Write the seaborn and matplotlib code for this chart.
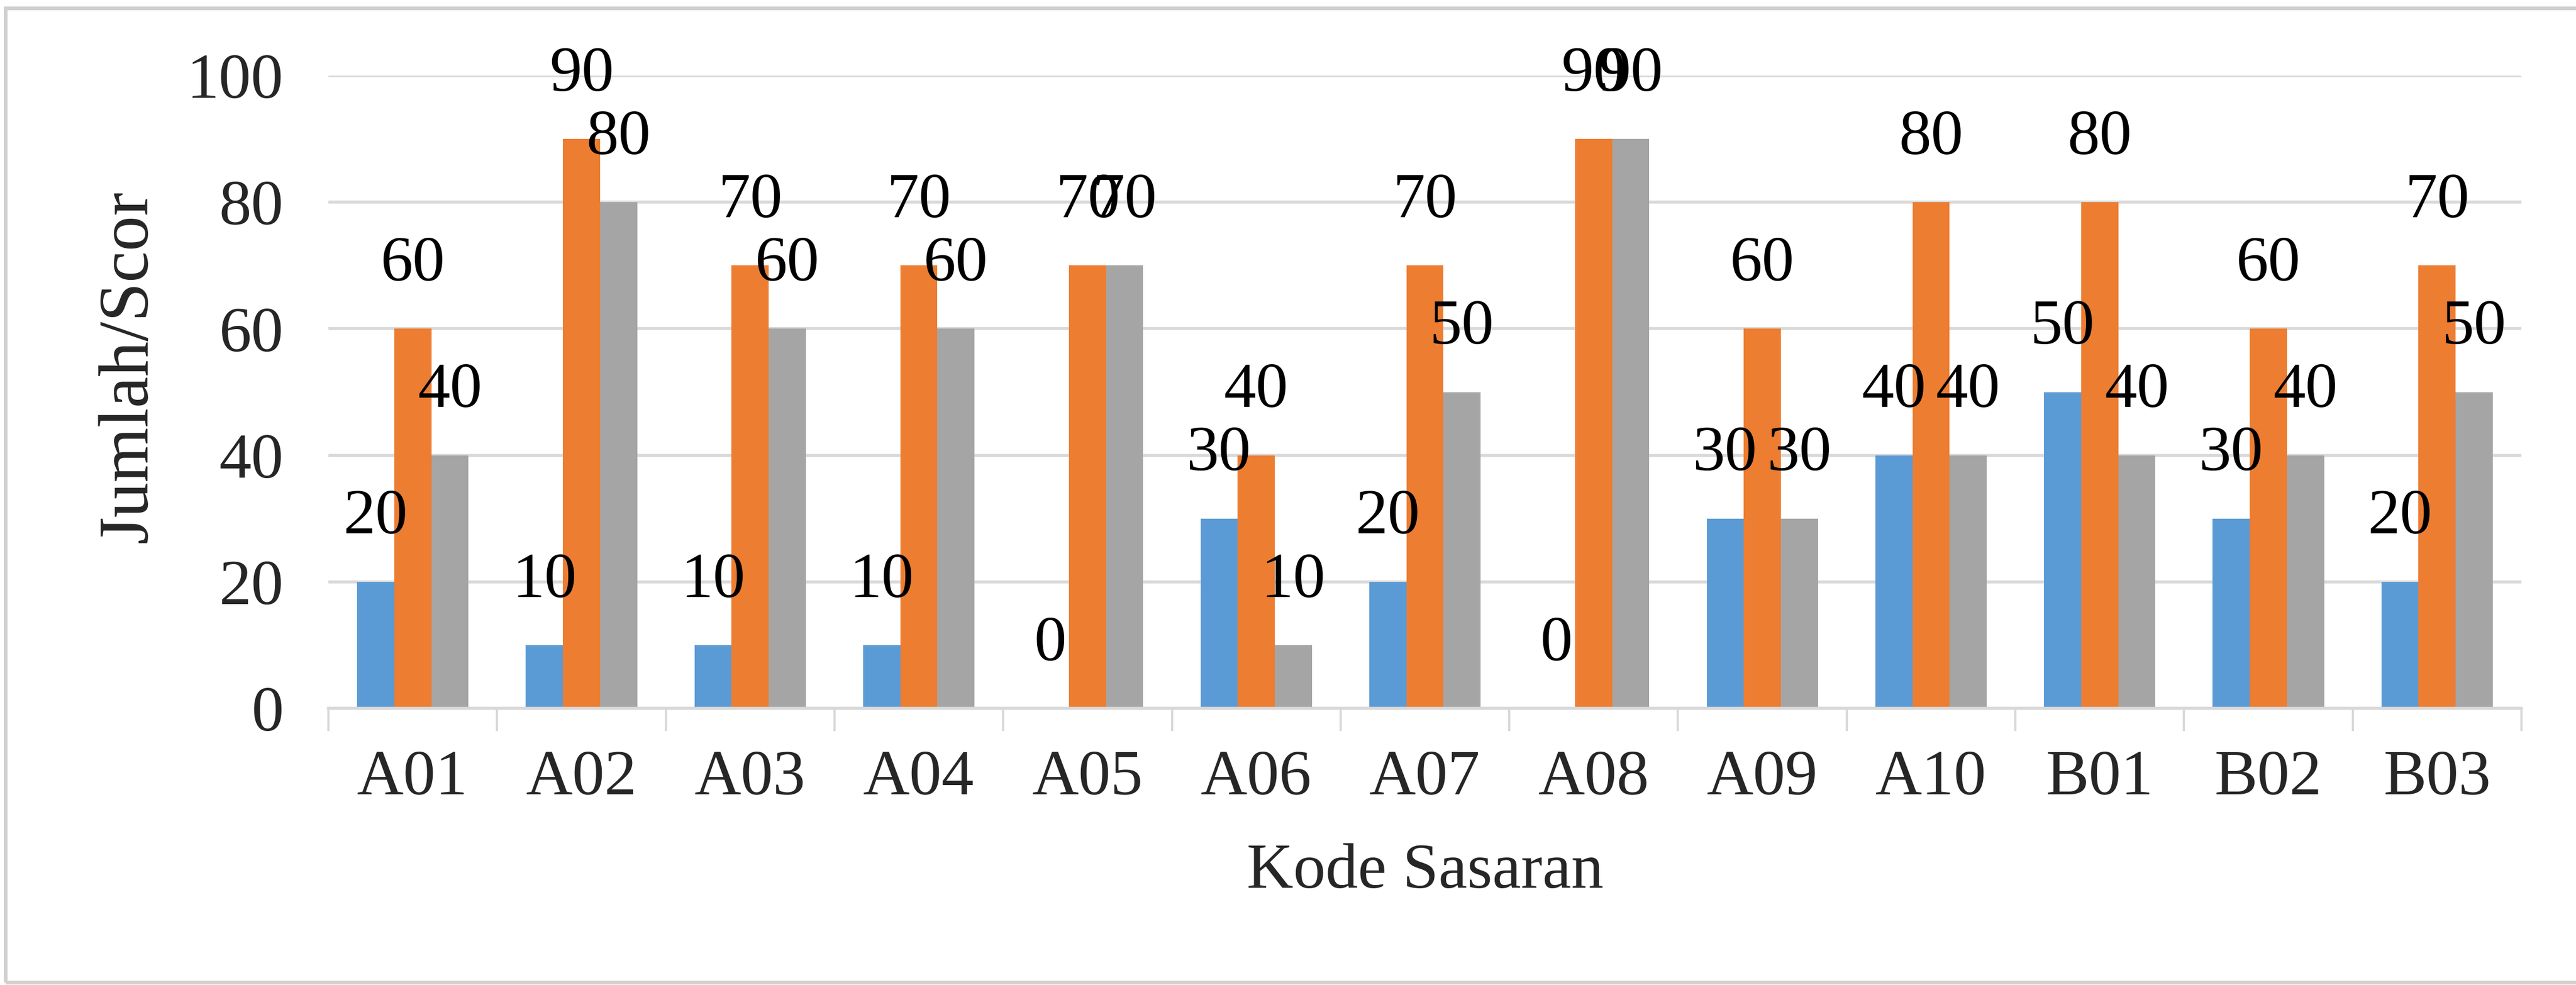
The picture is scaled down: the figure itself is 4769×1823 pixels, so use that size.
import matplotlib
matplotlib.use("Agg")
import matplotlib.pyplot as plt
from matplotlib.patches import Rectangle
import seaborn as sns
import pandas as pd

# ---- data -------------------------------------------------------------
categories = ["A01", "A02", "A03", "A04", "A05", "A06", "A07",
              "A08", "A09", "A10", "B01", "B02", "B03"]
series_names = ["Seri 1", "Seri 2", "Seri 3"]
seri_1 = [20, 10, 10, 10, 0, 30, 20, 0, 30, 40, 50, 30, 20]
seri_2 = [60, 90, 70, 70, 70, 40, 70, 90, 60, 80, 80, 60, 70]
seri_3 = [40, 80, 60, 60, 70, 10, 50, 90, 30, 40, 40, 40, 50]
y_ticks = [0, 20, 40, 60, 80, 100]
x_label = "Kode Sasaran"
y_label = "Jumlah/Scor"

colors = ["#5B9BD5", "#ED7D31", "#A5A5A5"]

df = pd.DataFrame({
    "kode": categories * 3,
    "seri": [n for n in series_names for _ in categories],
    "nilai": seri_1 + seri_2 + seri_3,
})

# ---- figure -----------------------------------------------------------
sns.set_theme(style="white")
plt.rcParams["font.family"] = ["Liberation Serif", "DejaVu Serif"]

W, H, DPI = 4769, 1823, 100
fig = plt.figure(figsize=(W / DPI, H / DPI), dpi=DPI)
fig.patch.set_facecolor("white")

# chart-area frame
fig.patches.append(Rectangle((10 / W, 1 - 1818 / H), 1.2, (1818 - 15) / H,
                             transform=fig.transFigure, fill=False,
                             edgecolor="#D0D0D0", linewidth=5, zorder=0))

ax = fig.add_axes([608 / W, 1 - 1311 / H, (4668 - 608) / W, (1311 - 140) / H])

sns.barplot(data=df, x="kode", y="nilai", hue="seri", order=categories,
            hue_order=series_names, palette=colors, width=0.66, gap=0,
            saturation=1, edgecolor="none", linewidth=0, legend=False, ax=ax)

ax.set_ylim(0, 100)
ax.set_xlim(-0.5, len(categories) - 0.5)
ax.set_yticks(y_ticks)
ax.set_yticklabels([str(v) for v in y_ticks])
ax.yaxis.grid(True, color="#D9D9D9", linewidth=4)
ax.xaxis.grid(False)
ax.set_axisbelow(True)

for side in ["top", "right", "left"]:
    ax.spines[side].set_visible(False)
ax.spines["bottom"].set_color("#D9D9D9")
ax.spines["bottom"].set_linewidth(4)

# category separator ticks below the baseline
ax.set_xticks([i for i in range(len(categories))])
ax.set_xticklabels(categories)
ax.set_xticks([i - 0.5 for i in range(len(categories) + 1)], minor=True)
ax.tick_params(axis="x", which="major", length=0, pad=55, labelsize=86)
ax.tick_params(axis="x", which="minor", length=30, width=3, color="#D9D9D9",
               direction="out", bottom=True)
ax.tick_params(axis="y", length=0, pad=60, labelsize=86)

ax.set_xlabel(x_label, fontsize=86, labelpad=47)
ax.set_ylabel(y_label, fontsize=94)
ax.yaxis.set_label_coords(-0.076, 0.54)

# value labels above each bar
for container, values in zip(ax.containers, [seri_1, seri_2, seri_3]):
    for rect, v in zip(container.patches, values):
        ax.annotate(str(v), (rect.get_x() + rect.get_width() / 2, v),
                    xytext=(0, 85), textcoords="offset points",
                    ha="center", va="center", fontsize=86, color="black",
                    annotation_clip=False)

fig.savefig("out.png", dpi=DPI, facecolor="white")
